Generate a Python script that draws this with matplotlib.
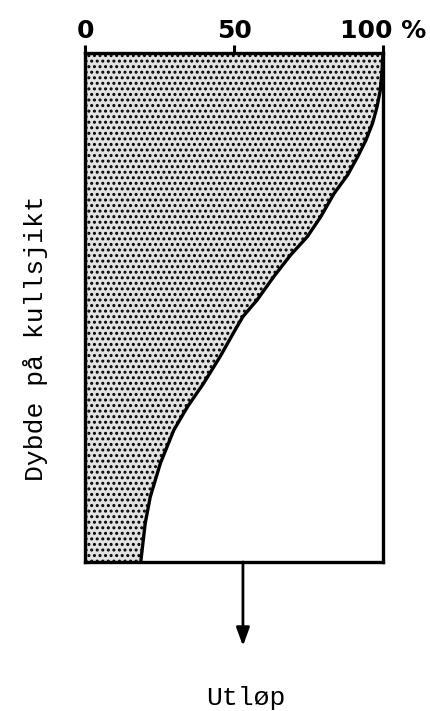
import matplotlib
matplotlib.use("Agg")
import matplotlib.pyplot as plt

# share of the material (%) against depth in the coal layer (% of height)
depth = [0.0, 3.3, 7.3, 10.6, 13.8, 17.1, 20.4, 24.0, 27.6, 32.2, 36.1,
         39.7, 43.9, 48.5, 51.8, 54.4, 59.7, 64.9, 69.5, 74.1, 80.6,
         87.2, 92.4, 100.0]
share = [100.0, 99.7, 99.1, 98.0, 96.5, 94.3, 91.5, 88.1, 83.6, 79.1, 74.6,
         69.0, 63.4, 57.8, 53.0, 50.4, 45.3, 39.8, 34.4, 29.8, 25.3,
         21.9, 20.2, 18.7]
tick_values = [0, 50, 100]
tick_labels = ["0", "50", "100 %"]
ylabel = "Dybde på kullsjikt"
outlet_label = "Utløp"

plt.rcParams["hatch.linewidth"] = 1.4
plt.rcParams["hatch.color"] = "black"

fig = plt.figure(figsize=(4.3, 7.11), dpi=100)
ax = fig.add_axes([0.1977, 0.2096, 0.693, 0.716])

ax.fill_betweenx(depth, 0, share, facecolor="#e2e2e2", edgecolor="black",
                 hatch="...", linewidth=0)
ax.plot(share, depth, color="black", linewidth=2.4, solid_joinstyle="round")

ax.set_xlim(0, 100)
ax.set_ylim(100, 0)
for side in ax.spines.values():
    side.set_linewidth(2.4)

ax.xaxis.tick_top()
ax.set_xticks(tick_values)
ax.set_xticklabels(tick_labels, fontsize=18, family="DejaVu Sans",
                   fontweight="bold")
ax.tick_params(axis="x", direction="out", length=6, width=2.2, pad=1)
ax.set_yticks([])

ax.set_ylabel(ylabel, family="Liberation Mono", fontsize=19)
ax.yaxis.set_label_coords(-0.125, 0.44)

# outlet arrow below the middle of the layer
ax.annotate("", xy=(53, 116.5), xytext=(53, 100), xycoords="data",
            annotation_clip=False,
            arrowprops=dict(arrowstyle="-|>,head_length=1.1,head_width=0.4",
                            color="black", linewidth=2, shrinkA=0, shrinkB=0))
ax.text(54, 126.8, outlet_label, family="Liberation Mono", fontsize=19,
        ha="center", va="center", clip_on=False)

fig.savefig("out.png", dpi=100)
